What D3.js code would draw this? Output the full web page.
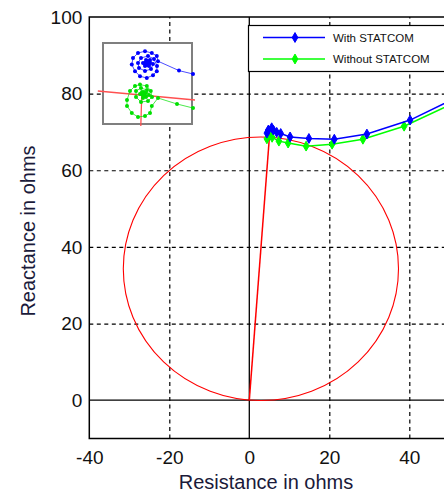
<!DOCTYPE html>
<html>
<head>
<meta charset="utf-8">
<script src="https://cdn.jsdelivr.net/npm/d3@7"></script>
<style>
  body { margin: 0; background: #fff; }
  svg { display: block; font-family: Arial, "Liberation Sans", sans-serif; }
</style>
</head>
<body>
<div id="chart"></div>
<script>
// impedance trajectory, R (ohms) and X (ohms)
const withR = [4.4, 4.75, 5.6, 6.0, 6.85, 7.85, 10.2, 14.9, 21.25, 29.4, 40.2, 52.5]
const withX = [69.7, 70.5, 71.1, 70.5, 69.9, 69.6, 68.7, 68.3, 68.1, 69.45, 73.1, 79.3]
const withoutR = [4.4, 4.9, 5.7, 7.4, 9.7, 14.2, 20.7, 28.4, 38.7, 52.5]
const withoutX = [68.2, 69.4, 68.6, 67.6, 67.1, 66.3, 66.8, 68.1, 71.5, 78.2]

// mho relay circle and line from origin
const mhoCenter = [2.9, 34.3]
const mhoRadius = 34.4
const relayLineR = [0, 5.0]
const relayLineX = [0, 68.3]

const xTicks = [-40, -20, 0, 20, 40]
const yTicks = [0, 20, 40, 60, 80, 100]
const seriesNames = ['With STATCOM', 'Without STATCOM']

// zoomed inset (spiral near the start point)
const inBlueR = [8.5, 7.8, 6.75, 6.69, 6.44, 6.1, 5.75, 5.5, 5.44, 5.6, 5.85, 6.19, 6.5, 6.69, 6.7,
  6.55, 6.25, 5.9, 5.75, 5.8, 6.1, 6.4, 6.5, 6.35, 6.15, 6.0, 6.1, 6.3, 6.35, 6.2, 6.25, 6.1,
  6.3, 6.2, 6.1, 6.2, 6.3, 6.25]
const inBlueX = [69.0, 69.17, 69.64, 69.9, 70.05, 70.14, 70.05, 69.8, 69.47, 69.14, 68.89, 68.8, 68.94, 69.14, 69.4,
  69.75, 69.9, 69.8, 69.55, 69.3, 69.15, 69.25, 69.5, 69.7, 69.7, 69.55, 69.4, 69.4, 69.55, 69.55, 69.6, 69.5,
  69.6, 69.65, 69.55, 69.45, 69.5, 69.55]
const inGreenR = [8.5, 7.7, 6.75, 6.44, 6.35, 6.1, 5.75, 5.44, 5.2, 5.2, 5.35, 5.6, 5.85, 6.19, 6.39, 6.45,
  6.25, 5.9, 5.65, 5.65, 5.9, 6.2, 6.3, 6.15, 6.0, 5.85, 5.95, 6.15, 6.0, 6.05, 6.1, 5.95, 6.05]
const inGreenX = [67.3, 67.5, 67.8, 67.4, 67.05, 66.9, 66.85, 67.05, 67.4, 67.7, 68.15, 68.4, 68.47, 68.4, 68.15, 67.85,
  67.65, 67.6, 67.85, 68.15, 68.3, 68.2, 67.95, 67.85, 67.8, 68.0, 68.1, 68.05, 67.95, 67.95, 67.9, 68.0, 68.1]
const inRedHR = [3.74, 8.6]
const inRedHX = [68.15, 67.7]
const inRedVR = [5.94, 5.89]
const inRedVX = [68.05, 66.4]

const W = 444, H = 495
const mLeft = 89.3, mTop = 17, mBottom = 438.5
const pw = 400 // plot box runs past the right edge of the picture

const svg = d3.select('#chart').append('svg')
  .attr('width', W).attr('height', H)

const x = d3.scaleLinear().domain([-40, 60]).range([mLeft, mLeft + pw])
const y = d3.scaleLinear().domain([-10, 100]).range([mBottom, mTop])

const g = svg.append('g')

// dashed grid
g.append('g')
  .attr('transform', 'translate(0,' + mBottom + ')')
  .call(d3.axisBottom(x).tickValues(xTicks.filter(d => d != 0 && d != -40)).tickSize(-(mBottom - mTop)).tickFormat(''))
  .call(a => a.select('.domain').remove())
  .selectAll('line').attr('stroke', '#000').attr('stroke-dasharray', '4,3.5').attr('stroke-width', 1.2)
g.append('g')
  .attr('transform', 'translate(' + mLeft + ',0)')
  .call(d3.axisLeft(y).tickValues(yTicks.filter(d => d != 0 && d != 100)).tickSize(-pw).tickFormat(''))
  .call(a => a.select('.domain').remove())
  .selectAll('line').attr('stroke', '#000').attr('stroke-dasharray', '4,3.5').attr('stroke-width', 1.2)

// zero lines
g.append('line').attr('x1', x(0)).attr('x2', x(0)).attr('y1', mTop).attr('y2', mBottom)
  .attr('stroke', '#000').attr('stroke-width', 1.3)
g.append('line').attr('x1', mLeft).attr('x2', mLeft + pw).attr('y1', y(0)).attr('y2', y(0))
  .attr('stroke', '#000').attr('stroke-width', 1.3)

// tick labels (plain hyphen for negatives, as in the original)
const xAxis = g.append('g')
  .attr('transform', 'translate(0,' + mBottom + ')')
  .call(d3.axisBottom(x).tickValues(xTicks).tickSize(0).tickPadding(12).tickFormat(d => String(d)))
xAxis.select('.domain').remove()
xAxis.selectAll('text').attr('font-size', 19).attr('fill', '#111').attr('font-family', 'Arial, "Liberation Sans", sans-serif')

const yAxis = g.append('g')
  .attr('transform', 'translate(' + mLeft + ',0)')
  .call(d3.axisLeft(y).tickValues(yTicks).tickSize(0).tickPadding(7).tickFormat(d => String(d)))
yAxis.select('.domain').remove()
yAxis.selectAll('text').attr('font-size', 19).attr('fill', '#111').attr('font-family', 'Arial, "Liberation Sans", sans-serif')

// mho circle
g.append('ellipse')
  .attr('cx', x(mhoCenter[0])).attr('cy', y(mhoCenter[1]))
  .attr('rx', x(mhoRadius) - x(0)).attr('ry', y(0) - y(mhoRadius))
  .attr('fill', 'none').attr('stroke', '#ff0000').attr('stroke-width', 1.1)

const line = d3.line().x(d => x(d[0])).y(d => y(d[1]))
g.append('path')
  .datum(d3.zip(relayLineR, relayLineX))
  .attr('d', line).attr('fill', 'none').attr('stroke', '#ff0000').attr('stroke-width', 1.5)

const series = [
  {name: seriesNames[1], color: '#00ff00', pts: d3.zip(withoutR, withoutX)},
  {name: seriesNames[0], color: '#0000ff', pts: d3.zip(withR, withX)}
]
const diamond = d3.symbol().type(d3.symbolDiamond).size(28)

series.forEach(function (s) {
  g.append('path').datum(s.pts)
    .attr('d', line).attr('fill', 'none').attr('stroke', s.color).attr('stroke-width', 1.5)
  g.selectAll(null).data(s.pts).enter().append('path')
    .attr('d', diamond)
    .attr('transform', d => 'translate(' + x(d[0]) + ',' + y(d[1]) + ')')
    .attr('fill', s.color).attr('stroke', s.color)
})

// plot border
g.append('rect').attr('x', mLeft).attr('y', mTop).attr('width', pw).attr('height', mBottom - mTop)
  .attr('fill', 'none').attr('stroke', '#000').attr('stroke-width', 1.5)

// legend
const lg = svg.append('g')
lg.append('rect').attr('x', 248.5).attr('y', 25.5).attr('width', 220).attr('height', 46)
  .attr('fill', '#fff').attr('stroke', '#000').attr('stroke-width', 1.2)
const legendItems = [
  {name: seriesNames[0], color: '#0000ff'},
  {name: seriesNames[1], color: '#00ff00'}
]
legendItems.forEach(function (d, i) {
  const ly = 37.5 + i * 21.5
  lg.append('line').attr('x1', 263).attr('x2', 325).attr('y1', ly).attr('y2', ly)
    .attr('stroke', d.color).attr('stroke-width', 1.5)
  lg.append('path').attr('d', diamond).attr('transform', 'translate(295,' + ly + ')')
    .attr('fill', d.color).attr('stroke', d.color)
  lg.append('text').attr('x', 333).attr('y', ly + 4).attr('font-size', 11.5)
    .attr('fill', '#111').text(d.name)
})

// inset with zoomed view
const ix = d3.scaleLinear().domain([4, 8.45]).range([103, 192])
const iy = d3.scaleLinear().domain([66.5, 70.55]).range([124, 43])
const ig = svg.append('g')
ig.append('rect').attr('x', 103).attr('y', 43).attr('width', 89).attr('height', 81)
  .attr('fill', '#fff').attr('stroke', '#7f7f7f').attr('stroke-width', 2)
const iline = d3.line().x(d => ix(d[0])).y(d => iy(d[1]))
ig.append('path').datum(d3.zip(inRedHR, inRedHX)).attr('d', iline)
  .attr('fill', 'none').attr('stroke', '#ff5050').attr('stroke-width', 1.3)
ig.append('path').datum(d3.zip(inRedVR, inRedVX)).attr('d', iline)
  .attr('fill', 'none').attr('stroke', '#ff5050').attr('stroke-width', 1.3)
const insetSeries = [
  {color: '#0000ff', pts: d3.zip(inBlueR, inBlueX)},
  {color: '#00e000', pts: d3.zip(inGreenR, inGreenX)}
]
insetSeries.forEach(function (s) {
  ig.append('path').datum(s.pts).attr('d', iline)
    .attr('fill', 'none').attr('stroke', s.color).attr('stroke-width', 1).attr('stroke-opacity', 0.7)
  ig.selectAll(null).data(s.pts).enter().append('circle')
    .attr('cx', d => ix(d[0])).attr('cy', d => iy(d[1])).attr('r', 2)
    .attr('fill', s.color)
})

// axis titles
svg.append('text').attr('x', 266).attr('y', 489).attr('text-anchor', 'middle')
  .attr('font-size', 20).attr('fill', '#1a1a3a').text('Resistance in ohms')
svg.append('text').attr('transform', 'translate(35,231) rotate(-90)').attr('text-anchor', 'middle')
  .attr('font-size', 20).attr('fill', '#1a1a3a').text('Reactance in ohms')
</script>
</body>
</html>
